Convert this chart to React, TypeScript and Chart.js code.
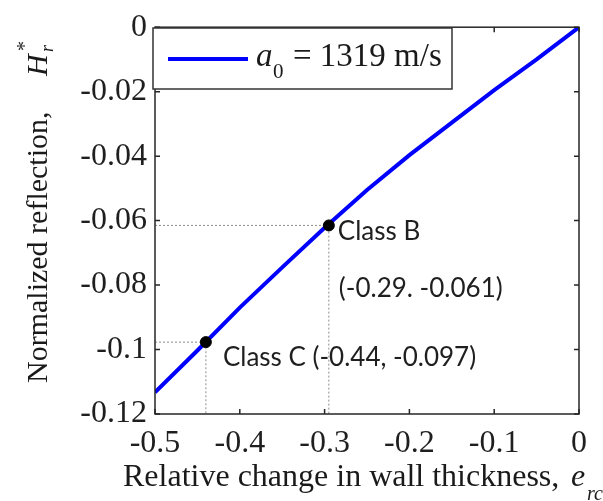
import React, { useEffect, useRef } from 'react';
import { Chart, registerables } from 'chart.js';

Chart.register(...registerables);

// ---- data ----
const thickness = [-0.5, -0.45, -0.4, -0.35, -0.3, -0.25, -0.2, -0.15, -0.1, -0.05, 0];
const reflection = [-0.1133, -0.1003, -0.087, -0.0745, -0.0622, -0.0505, -0.0397, -0.0296, -0.0195, -0.01, 0];

const classNames = ['Class B', 'Class C'];
const classX = [-0.295, -0.44];
const classY = [-0.0615, -0.0977];
const classCaptions = [
  ['Class B', '(-0.29. -0.061)'],
  ['Class C (-0.44, -0.097)'],
];

const xMin = -0.5;
const xMax = 0;
const xStep = 0.1;
const yMin = -0.12;
const yMax = 0;
const yStep = 0.02;

const legendSymbol = 'a';
const legendSub = '0';
const legendRest = '= 1319 m/s';

const xTitleMain = 'Relative change in wall thickness, ';
const xTitleVar = 'e';
const xTitleSub = 'rc';
const yTitleMain = 'Normalized reflection,';
const yTitleVar = 'H';
const yTitleSub = 'r';
const yTitleSup = '*';

const SERIF = '"Liberation Serif", "Times New Roman", serif';
const SANS = 'Lato, "Open Sans", sans-serif';

const fmt = (v: number) => {
  const r = Math.round(v * 1000) / 1000;
  return r === 0 ? '0' : String(r);
};

const decorPlugin = {
  id: 'decor',
  afterDraw(chart: any) {
    const { ctx, chartArea: a, scales } = chart;
    const xs = scales.x;
    const ys = scales.y;
    ctx.save();

    // frame
    ctx.strokeStyle = '#262626';
    ctx.lineWidth = 1.5;
    ctx.strokeRect(a.left, a.top, a.right - a.left, a.bottom - a.top);

    // inward ticks on all four sides
    ctx.beginPath();
    const tl = 5;
    xs.ticks.forEach((t: any) => {
      const p = xs.getPixelForValue(t.value);
      ctx.moveTo(p, a.bottom);
      ctx.lineTo(p, a.bottom - tl);
      ctx.moveTo(p, a.top);
      ctx.lineTo(p, a.top + tl);
    });
    ys.ticks.forEach((t: any) => {
      const p = ys.getPixelForValue(t.value);
      ctx.moveTo(a.left, p);
      ctx.lineTo(a.left + tl, p);
      ctx.moveTo(a.right, p);
      ctx.lineTo(a.right - tl, p);
    });
    ctx.stroke();

    // class annotations
    ctx.fillStyle = '#1f1f1f';
    ctx.font = `26px ${SANS}`;
    ctx.textBaseline = 'middle';
    ctx.textAlign = 'left';
    const bx = xs.getPixelForValue(classX[0]);
    const by = ys.getPixelForValue(classY[0]);
    ctx.fillText(classCaptions[0][0], bx + 9, by + 6);
    ctx.fillText(classCaptions[0][1], bx + 10, by + 63);
    const cx = xs.getPixelForValue(classX[1]);
    const cy = ys.getPixelForValue(classY[1]);
    ctx.fillText(classCaptions[1][0], cx + 17, cy + 15);

    // legend box
    const lx0 = a.left - 2;
    const lx1 = 452;
    const ly0 = 28;
    const ly1 = 89;
    ctx.fillStyle = '#ffffff';
    ctx.fillRect(lx0, ly0, lx1 - lx0, ly1 - ly0);
    ctx.strokeStyle = '#333333';
    ctx.lineWidth = 1.5;
    ctx.strokeRect(lx0, ly0, lx1 - lx0, ly1 - ly0);
    ctx.strokeStyle = '#0000ff';
    ctx.lineWidth = 4;
    ctx.beginPath();
    ctx.moveTo(168, 59);
    ctx.lineTo(248, 59);
    ctx.stroke();
    ctx.fillStyle = '#1a1a1a';
    ctx.textBaseline = 'alphabetic';
    ctx.font = `italic 33px ${SERIF}`;
    ctx.fillText(legendSymbol, 256, 66);
    ctx.font = `21px ${SERIF}`;
    ctx.fillText(legendSub, 273, 78);
    ctx.font = `33px ${SERIF}`;
    ctx.fillText(legendRest, 293, 66);

    // x title
    ctx.fillStyle = '#1a1a1a';
    ctx.font = `32px ${SERIF}`;
    ctx.fillText(xTitleMain, 123, 486);
    ctx.font = `italic 32px ${SERIF}`;
    ctx.fillText(xTitleVar, 571, 486);
    ctx.font = `italic 20px ${SERIF}`;
    ctx.fillText(xTitleSub, 587, 500);

    // y title (rotated)
    ctx.translate(47, 383);
    ctx.rotate(-Math.PI / 2);
    ctx.font = `30px ${SERIF}`;
    ctx.fillText(yTitleMain, 0, 0);
    ctx.font = `italic 30px ${SERIF}`;
    ctx.fillText(yTitleVar, 307, 0);
    ctx.font = `italic 18px ${SERIF}`;
    ctx.fillText(yTitleSub, 331, 6);
    ctx.font = `20px ${SERIF}`;
    ctx.fillText(yTitleSup, 332, -16);

    ctx.restore();
  },
};

export default function App() {
  const ref = useRef<HTMLCanvasElement | null>(null);

  useEffect(() => {
    if (!ref.current) return;
    const curve = thickness.map((x, i) => ({ x, y: reflection[i] }));
    const dots = classX.map((x, i) => ({ x, y: classY[i] }));
    const guides = classX.map((x, i) => ({
      label: classNames[i] + ' guide',
      data: [
        { x: xMin, y: classY[i] },
        { x, y: classY[i] },
        { x, y: yMin },
      ],
      showLine: true,
      borderColor: '#8c8c8c',
      borderWidth: 1,
      borderDash: [2, 2],
      pointRadius: 0,
      fill: false,
      order: 3,
    }));

    const chart = new Chart(ref.current, {
      type: 'scatter',
      data: {
        datasets: [
          {
            label: 'Classes',
            data: dots,
            pointRadius: 5.5,
            pointBackgroundColor: '#000000',
            pointBorderColor: '#000000',
            showLine: false,
            order: 1,
          },
          {
            label: 'a0 = 1319 m/s',
            data: curve,
            showLine: true,
            borderColor: '#0000ff',
            borderWidth: 4,
            pointRadius: 0,
            tension: 0,
            order: 2,
          },
          ...guides,
        ] as any,
      },
      options: {
        responsive: false,
        animation: false,
        layout: { padding: { left: 0, right: 24, top: 22, bottom: 0 } },
        plugins: {
          legend: { display: false },
          tooltip: { enabled: false },
        },
        scales: {
          x: {
            type: 'linear',
            min: xMin,
            max: xMax,
            grid: { display: false, drawTicks: false },
            border: { display: false },
            ticks: {
              stepSize: xStep,
              padding: 10,
              color: '#1f1f1f',
              font: { family: SERIF, size: 32 },
              callback: (v: any) => fmt(Number(v)),
              maxRotation: 0,
              autoSkip: false,
            },
            afterFit: (s: any) => {
              s.height = 87;
            },
          },
          y: {
            type: 'linear',
            min: yMin,
            max: yMax,
            grid: { display: false, drawTicks: false },
            border: { display: false },
            ticks: {
              stepSize: yStep,
              padding: 8,
              color: '#1f1f1f',
              font: { family: SERIF, size: 32 },
              callback: (v: any) => fmt(Number(v)),
              autoSkip: false,
            },
            afterFit: (s: any) => {
              s.width = 155;
            },
          },
        },
      } as any,
      plugins: [decorPlugin],
    });
    return () => chart.destroy();
  }, []);

  return (
    <div style={{ position: 'absolute', left: 0, top: 0, width: 603, height: 501, background: '#fff' }}>
      <canvas ref={ref} width={603} height={501} style={{ display: 'block' }} />
    </div>
  );
}
